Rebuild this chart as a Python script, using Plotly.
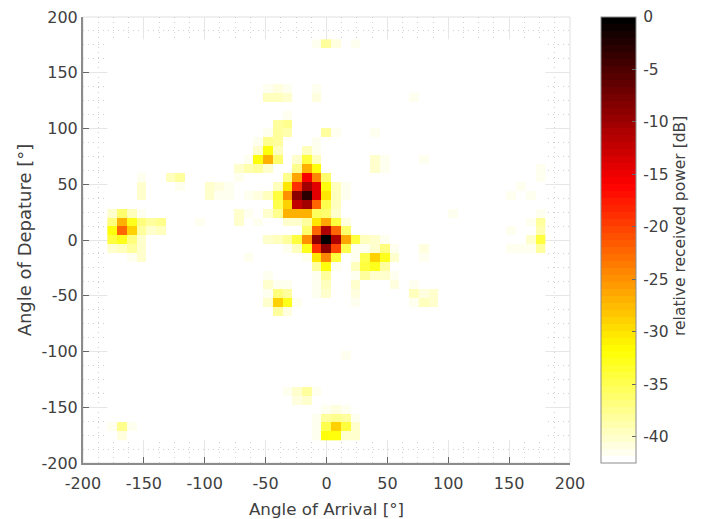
import plotly.graph_objects as go

# AoD bin (x 8 deg) -> {AoA bin (x 8 deg): relative received power in dB}
aod_p22 = {-1:-41.5, 0:-37.9, 1:-40.9, 3:-41.2}
aod_p21 = {-1:-41.9, 0:-41.9}
aod_p17 = {-6:-41.2, -5:-40.9, -4:-41.5, -1:-41.2, 0:-41.9}
aod_p16 = {-6:-39.2, -5:-39.6, -4:-40.2, -2:-41.9, -1:-40.9, 9:-41.2}
aod_p15 = {-19:-42, -4:-41.9}
aod_p14 = {-19:-42, -4:-41.2, -1:-41.9}
aod_p13 = {-19:-42, -5:-37.9, -4:-37.2, 0:-42, 1:-42}
aod_p12 = {-6:-41.2, -5:-38.5, -4:-38.9, -1:-41.9, 0:-37.9, 1:-41.5, 5:-41.5}
aod_p11 = {-7:-41.2, -6:-37.2, -5:-38.5, -4:-41.9, -2:-41.9, -1:-41.2, 5:-41.9}
aod_p10 = {-8:-41.9, -7:-40.2, -6:-31.9, -5:-39.2, -4:-41.9, -2:-39.2, -1:-41.2, 6:-41.9}
aod_p09 = {-8:-41.2, -7:-31.9, -6:-27, -5:-35.9, -4:-41.9, -3:-40.2, -2:-33.9, -1:-39.2, 4:-41.9, 5:-40.2, 6:-41.2, 10:-41.5}
aod_p08 = {-16:-41.9, -9:-40.5, -8:-38.9, -7:-38.5, -6:-39.9, -5:-41.9, -3:-37.2, -2:-27, -1:-31.9, 0:-41.9, 5:-39.9, 6:-41.2, 22:-41.5}
aod_p07 = {-20:-41.9, -19:-41.2, -16:-39.2, -15:-37.9, -14:-41.9, -10:-41.9, -9:-41.5, -8:-41.9, -4:-37.2, -3:-26, -2:-15.9, -1:-24, 0:-35.9, 1:-41.9, 22:-41.5}
aod_p06 = {-19:-40.5, -18:-41.9, -16:-41.9, -15:-41.5, -12:-40.5, -11:-40.9, -10:-41.5, -5:-39.2, -4:-30, -3:-19, -2:-10, -1:-14, 0:-31.9, 1:-39.2, 2:-41.2, 6:-41.9, 20:-41.8}
aod_p05 = {-20:-41.9, -19:-39.9, -18:-41.9, -12:-40.5, -11:-41.2, -10:-41.5, -8:-41.8, -7:-40.9, -6:-39.2, -5:-33.9, -4:-25, -3:-8.7, -2:-3, -1:-14, 0:-30, 1:-39.2, 2:-41.2, 3:-41.9, 4:-41.9, 6:-41.9, 19:-41.8, 21:-41.8}
aod_p04 = {-22:-41.9, -21:-41.9, -20:-41.9, -6:-41.9, -5:-34.6, -4:-28.7, -3:-12, -2:-10, -1:-22, 0:-34.6, 1:-39.2, 2:-41.9, 6:-41.9, 7:-41.9, 22:-41.9}
aod_p03 = {-22:-39.9, -21:-35.9, -20:-39.2, -19:-41.2, -18:-41.9, -17:-41.9, -13:-41.9, -9:-39.9, -8:-41.5, -6:-40.5, -5:-37.2, -4:-27, -3:-27, -2:-27, -1:-35.2, 0:-35.9, 1:-39.9, 9:-42, 10:-42, 13:-41.8, 22:-41.5}
aod_p02 = {-22:-36.6, -21:-27, -20:-33.2, -19:-36.6, -18:-38.5, -17:-37.2, -16:-41.9, -14:-41.9, -13:-41.2, -9:-39.9, -8:-41.9, -7:-41.8, -6:-41.9, -4:-39.9, -3:-39.9, -2:-38.5, -1:-30, 0:-26, 1:-33.9, 2:-40.9, 20:-42, 21:-41.5, 22:-37.9}
aod_p01 = {-22:-31.9, -21:-22.5, -20:-29, -19:-37.9, -18:-39.9, -17:-39.2, -3:-41.9, -2:-35.9, -1:-22, 0:-11, 1:-22, 2:-35.9, 3:-41.9, 4:-41.9, 19:-41.8, 21:-42, 22:-38.9}
aod_000 = {-22:-33.9, -21:-32.6, -20:-36.6, -19:-39.9, -18:-41.9, -17:-41.9, -8:-41.9, -6:-40.5, -5:-39.2, -4:-38.5, -3:-33.9, -2:-25, -1:-8.7, 0:0, 1:-11, 2:-26, 3:-33.9, 4:-39.2, 5:-40.5, 6:-41.2, 20:-41.9, 21:-40.5, 22:-33.9}
aod_n01 = {-22:-40.5, -21:-39.6, -20:-38.5, -19:-40.5, -18:-41.9, -5:-41.9, -4:-41.2, -3:-39.2, -2:-32.6, -1:-19, 0:-8.7, 1:-20.5, 2:-34.6, 3:-41.5, 4:-41.2, 5:-40.2, 6:-36.6, 7:-41.5, 8:-41.9, 10:-40.9, 19:-41.5, 20:-41.8, 21:-41.2, 22:-38.5}
aod_n02 = {-22:-41.9, -21:-41.9, -20:-41.2, -19:-40.5, -18:-41.9, -8:-41.2, -7:-41.9, -2:-41.2, -1:-30, 0:-24, 1:-33.9, 2:-42, 3:-41.2, 4:-34.6, 5:-29, 6:-32.6, 7:-39.9, 8:-41.9, 10:-41.8, 18:-42, 19:-42, 20:-42, 22:-41.9}
aod_n03 = {-1:-38.5, 0:-31.9, 1:-41.2, 3:-39.2, 4:-33.9, 5:-33.2, 6:-38.5, 7:-41.9}
aod_n04 = {-6:-41.2, -5:-41.9, -1:-41.5, 0:-37.9, 1:-41.9, 3:-41.2, 4:-38.5, 5:-40.5, 6:-40.5, 7:-41.5, 8:-41.9}
aod_n05 = {-6:-40.5, -5:-41.2, -4:-41.5, -1:-41.5, 0:-39.2, 3:-40.5, 4:-41.9, 7:-40.9, 8:-41.9, 9:-41.8}
aod_n06 = {-6:-41.5, -5:-36.6, -4:-37.9, -3:-41.9, -1:-41.8, 0:-40.5, 2:-41.9, 3:-40.9, 8:-41.9, 9:-39.5, 10:-41, 11:-40.5, 12:-41.9}
aod_n07 = {-7:-41.9, -6:-40.5, -5:-29, -4:-33.2, -3:-41.2, 3:-41.5, 8:-41.9, 9:-41.2, 10:-39.5, 11:-40.2, 12:-41.9}
aod_n08 = {-7:-41.9, -5:-38.5, -4:-40.9, -3:-41.9, 0:-41.9, 8:-41.9, 9:-41.9, 10:-41.9, 12:-41.9}
aod_n13 = {2:-41.2, 3:-41.9}
aod_n14 = {0:-41.9}
aod_n17 = {-4:-41.2, -3:-39.9, -2:-37.9, -1:-41.5}
aod_n18 = {-4:-41.9, -3:-40.9, -2:-39.9, -1:-42, 2:-42}
aod_n19 = {-21:-41.9, -2:-42, -1:-42, 0:-41.2, 1:-40.9, 2:-41.5, 3:-41.9}
aod_n20 = {-21:-41.9, -2:-42, -1:-41.5, 0:-37.9, 1:-37.2, 2:-38.5, 3:-41.2, 4:-42}
aod_n21 = {-22:-41.5, -21:-37.2, -20:-41.5, -1:-41.5, 0:-34.6, 1:-29, 2:-33.9, 3:-39.9, 4:-41.9}
aod_n22 = {-22:-41.9, -21:-40.9, -20:-42, -1:-41.5, 0:-31.9, 1:-31.9, 2:-39.9, 3:-40.2, 4:-41.9}

rows_by_bin = {
    22: aod_p22, 21: aod_p21, 17: aod_p17, 16: aod_p16, 15: aod_p15, 14: aod_p14, 13: aod_p13,
    12: aod_p12, 11: aod_p11, 10: aod_p10, 9: aod_p09, 8: aod_p08, 7: aod_p07, 6: aod_p06,
    5: aod_p05, 4: aod_p04, 3: aod_p03, 2: aod_p02, 1: aod_p01, 0: aod_000, -1: aod_n01,
    -2: aod_n02, -3: aod_n03, -4: aod_n04, -5: aod_n05, -6: aod_n06, -7: aod_n07, -8: aod_n08,
    -13: aod_n13, -14: aod_n14, -17: aod_n17, -18: aod_n18, -19: aod_n19, -20: aod_n20,
    -21: aod_n21, -22: aod_n22,
}

noise_floor_db = -42.5
bin_width_deg = 8
bins = list(range(-22, 23))
angle_ticks = [-200, -150, -100, -50, 0, 50, 100, 150, 200]
angle_tick_labels = ["-200", "-150", "-100", "-50", "0", "50", "100", "150", "200"]
power_ticks = [0, -5, -10, -15, -20, -25, -30, -35, -40]
power_tick_labels = ["0", "-5", "-10", "-15", "-20", "-25", "-30", "-35", "-40"]

z = [[rows_by_bin.get(j, {}).get(i, noise_floor_db) for i in bins] for j in bins]
angles = [b * bin_width_deg for b in bins]


def hot_scale(levels=64):
    """MATLAB-style flipped hot map: low power white, high power black."""
    out = []
    for k in range(levels):
        t = 1 - k / (levels - 1)
        r = min(1, t / (3 / 8))
        g = min(1, max(0, (t - 3 / 8) / (3 / 8)))
        b = min(1, max(0, (t - 6 / 8) / (2 / 8)))
        col = f"rgb({r*255:.0f},{g*255:.0f},{b*255:.0f})"
        out.append([k / levels, col])
        out.append([(k + 1) / levels, col])
    return out


TEXT = "#404040"
def axis(title, title_size, standoff, label_standoff):
    return dict(
        title=dict(text=title, font=dict(size=title_size, color=TEXT), standoff=standoff),
        automargin=True, ticklabelstandoff=label_standoff,
        range=[-200, 200], tickmode="array", tickvals=angle_ticks, ticktext=angle_tick_labels,
        tickfont=dict(size=16, color=TEXT), ticks="inside", ticklen=6, tickcolor="#666666", tickwidth=1,
        showline=True, linecolor="#8c8c8c", linewidth=2, zeroline=False,
        showgrid=True, gridcolor="#e6e6e6", gridwidth=1,
        minor=dict(tickmode="linear", tick0=-200, dtick=12.5, showgrid=True, gridcolor="#d0d0d0",
                   griddash="1px,4px", gridwidth=1, ticks=""),
    )


fig = go.Figure(go.Heatmap(
    x=angles, y=angles, z=z, zmin=noise_floor_db, zmax=0, colorscale=hot_scale(),
    colorbar=dict(
        x=1.0637, xanchor="left", y=0.5, yanchor="middle", len=1, lenmode="fraction",
        thickness=35, thicknessmode="pixels", xpad=0, ypad=0,
        tickmode="array", tickvals=power_ticks,
        ticktext=["\u2009" + s for s in power_tick_labels],
        ticks="inside", ticklen=4, tickcolor="#666666",
        tickfont=dict(size=15.5, color=TEXT),
        outlinecolor="#8c8c8c", outlinewidth=1,
    ),
))
fig.add_shape(type="rect", xref="paper", yref="paper", x0=0, x1=1, y0=0, y1=1,
              line=dict(color="#e0e0e0", width=1), layer="below")
fig.add_annotation(text="relative received power [dB]", xref="paper", yref="paper",
                   x=1.2485, y=0.5315, textangle=-90, showarrow=False,
                   font=dict(size=15.5, color=TEXT))
fig.update_layout(
    width=702, height=519, autosize=False,
    margin=dict(l=83, r=132, t=17, b=56, autoexpand=False),
    paper_bgcolor="white", plot_bgcolor="white",
    font=dict(family="DejaVu Sans"),
    xaxis=axis("Angle of Arrival [°]", 16.7, 11, 5),
    yaxis=axis("Angle of Depature [°]", 18, 5, 0),
)
fig.write_html("out.html", config={"displayModeBar": False},
               post_script="document.body.style.margin='0';")
